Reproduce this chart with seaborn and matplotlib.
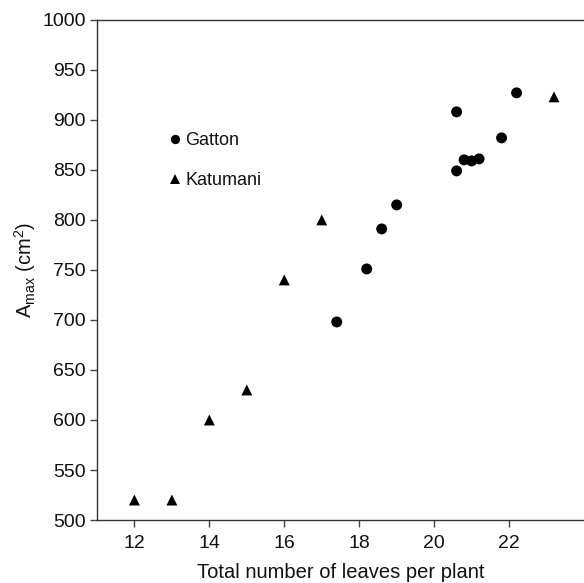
import matplotlib
matplotlib.use("Agg")
import matplotlib.pyplot as plt
import seaborn as sns
import pandas as pd

gatton_x = [17.4, 18.2, 18.6, 19.0, 20.6, 20.6, 20.8, 21.0, 21.2, 21.8, 22.2]
gatton_y = [698, 751, 791, 815, 849, 908, 860, 859, 861, 882, 927]
katumani_x = [12, 13, 14, 15, 16, 17, 23.2]
katumani_y = [520, 520, 600, 630, 740, 800, 923]
sites = ["Gatton", "Katumani"]
x_ticks = [12, 14, 16, 18, 20, 22]
y_ticks = [500, 550, 600, 650, 700, 750, 800, 850, 900, 950, 1000]

df = pd.DataFrame({
    "x": gatton_x + katumani_x,
    "y": gatton_y + katumani_y,
    "site": [sites[0]] * len(gatton_x) + [sites[1]] * len(katumani_x),
})

sns.set_style("ticks")
plt.rcParams['font.family'] = ['Liberation Sans', 'DejaVu Sans']
plt.rcParams['mathtext.fontset'] = 'custom'
plt.rcParams['mathtext.rm'] = 'Liberation Sans'
plt.rcParams['mathtext.it'] = 'Liberation Sans'

fig = plt.figure(figsize=(5.84, 5.83), dpi=100)
ax = fig.add_axes([0.166, 0.108, 0.834, 0.858])

sns.scatterplot(data=df, x="x", y="y", style="site", hue="site",
                markers={"Gatton": "o", "Katumani": "^"},
                palette={"Gatton": "black", "Katumani": "black"},
                s=62, edgecolor="black", linewidth=0, ax=ax, legend=True)

ax.set_xlim(11, 24)
ax.set_ylim(500, 1000)
ax.set_xticks(x_ticks)
ax.set_yticks(y_ticks)
ax.tick_params(axis="both", labelsize=14, length=5, width=1, color="#444444",
               direction="out", labelcolor="#111111")
ax.tick_params(axis="x", pad=6)
ax.tick_params(axis="y", pad=3)
for side in ["left", "bottom", "top"]:
    ax.spines[side].set_color("#333333")
    ax.spines[side].set_linewidth(1)
ax.spines["right"].set_visible(False)

ax.set_xlabel("Total number of leaves per plant", fontsize=14.5, labelpad=8, color="#111111")
ax.set_ylabel(r"A$_{\mathrm{max}}$ (cm$^{\mathrm{2}}$)", fontsize=14.5, labelpad=3, color="#111111")

leg = ax.legend(loc="upper left", bbox_to_anchor=(0.13, 0.786), frameon=False,
                fontsize=13, handletextpad=0.1, labelspacing=1.25, markerscale=0.85,
                handlelength=1.0, borderpad=0.3, borderaxespad=0)
for t in leg.get_texts():
    t.set_color("#111111")

fig.savefig("out.png", dpi=100)
